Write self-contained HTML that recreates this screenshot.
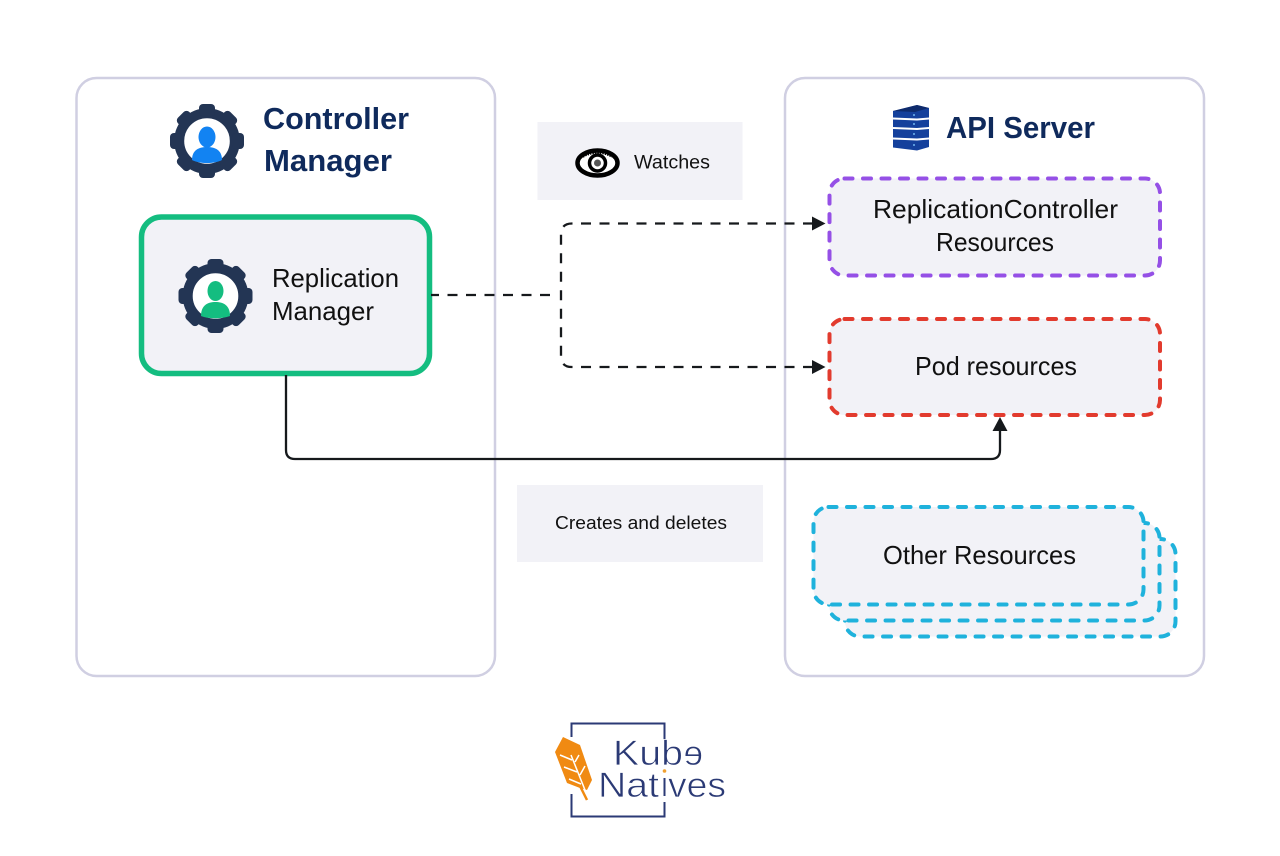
<!DOCTYPE html>
<html>
<head>
<meta charset="utf-8">
<style>
html,body{margin:0;padding:0;background:#fff;width:1280px;height:856px;overflow:hidden}
svg{display:block}
text{font-family:"Liberation Sans",sans-serif}
</style>
</head>
<body>
<svg width="1280" height="856" viewBox="0 0 1280 856" xmlns="http://www.w3.org/2000/svg">
<defs>
<g id="gear">
<circle r="27.800" fill="none" stroke="#233554" stroke-width="10"/>
<g fill="#233554">
<rect x="-8" y="-37" width="16" height="12" rx="4"/>
<rect x="-8" y="-37" width="16" height="12" rx="4" transform="rotate(45)"/>
<rect x="-8" y="-37" width="16" height="12" rx="4" transform="rotate(90)"/>
<rect x="-8" y="-37" width="16" height="12" rx="4" transform="rotate(135)"/>
<rect x="-8" y="-37" width="16" height="12" rx="4" transform="rotate(180)"/>
<rect x="-8" y="-37" width="16" height="12" rx="4" transform="rotate(225)"/>
<rect x="-8" y="-37" width="16" height="12" rx="4" transform="rotate(270)"/>
<rect x="-8" y="-37" width="16" height="12" rx="4" transform="rotate(315)"/>
</g>
</g>
</defs>

<!-- Panels -->
<rect x="76.500" y="78" width="418.500" height="598" rx="20" fill="#fff" stroke="#d0cfe2" stroke-width="2.500"/>
<rect x="785" y="78" width="419" height="598" rx="20" fill="#fff" stroke="#d0cfe2" stroke-width="2.500"/>

<!-- Controller Manager header -->
<use href="#gear" x="207" y="141"/>
<ellipse cx="207" cy="137" rx="8.500" ry="10.500" fill="#1283f2"/>
<path d="M192 160 C192 150 199 147 207 147 C215 147 222 150 222 160 C214 164 200 164 192 160Z" fill="#1283f2"/>
<text x="263" y="129" font-size="31" font-weight="700" fill="#0f2a5c" textLength="146" lengthAdjust="spacingAndGlyphs">Controller</text>
<text x="264" y="171" font-size="31" font-weight="700" fill="#0f2a5c" textLength="128" lengthAdjust="spacingAndGlyphs">Manager</text>

<!-- Replication Manager -->
<rect x="141.500" y="217" width="288" height="156.500" rx="20" fill="#f2f2f7" stroke="#14bd80" stroke-width="5.500"/>
<circle cx="215.500" cy="296" r="23" fill="#fff"/>
<use href="#gear" x="215.500" y="296"/>
<ellipse cx="215.500" cy="291" rx="8" ry="10" fill="#14bd80"/>
<path d="M201 316 C201 305 208 302 215.500 302 C223 302 230 305 230 316 C222 319 208 319 201 316Z" fill="#14bd80"/>
<text x="272" y="287" font-size="26" fill="#111" textLength="127" lengthAdjust="spacingAndGlyphs">Replication</text>
<text x="272" y="320" font-size="26" fill="#111" textLength="102" lengthAdjust="spacingAndGlyphs">Manager</text>

<!-- Watches -->
<rect x="537.500" y="122" width="205" height="78" fill="#f2f2f7"/>
<ellipse cx="597.500" cy="163" rx="20" ry="12.500" fill="#fff" stroke="#000" stroke-width="4.500"/>
<circle cx="597.500" cy="163" r="8" fill="#fff" stroke="#000" stroke-width="3.500"/>
<circle cx="597.500" cy="163" r="3.500" fill="#555"/>
<path d="M583 157 Q597.500 149 612 157" fill="none" stroke="#000" stroke-width="1.500" stroke-dasharray="1.500 1"/>
<text x="634" y="168.500" font-size="19" fill="#111" textLength="76" lengthAdjust="spacingAndGlyphs">Watches</text>

<!-- Creates and deletes -->
<rect x="517" y="485" width="246" height="77" fill="#f2f2f7"/>
<text x="555" y="529" font-size="18.500" fill="#111" textLength="172" lengthAdjust="spacingAndGlyphs">Creates and deletes</text>

<!-- API Server header -->
<g fill="#14409c">
<path d="M893 111 L917 105 L929 108 L929 117.500 L917 118.500 L893 117.500Z"/>
<path d="M893 119.500 L917 120.500 L929 119.500 L929 127 L917 128 L893 127Z"/>
<path d="M893 129 L917 130 L929 129 L929 137.500 L917 138.500 L893 137.500Z"/>
<path d="M893 139.500 L917 140.500 L929 139.500 L929 147 L917 150.500 L893 147.500Z"/>
</g>
<path d="M893 111 L917 105 L929 108 L915 112Z" fill="#0e2a6b"/>
<g fill="#6fb6f0">
<circle cx="914" cy="115" r="1"/><circle cx="914" cy="124" r="1"/><circle cx="914" cy="134" r="1"/><circle cx="914" cy="145" r="1"/>
</g>
<text x="946" y="138" font-size="31" font-weight="700" fill="#0f2a5c" textLength="149" lengthAdjust="spacingAndGlyphs">API Server</text>

<!-- ReplicationController -->
<rect x="829.500" y="178.500" width="330.500" height="97" rx="15" fill="#f2f2f7" stroke="#9550e6" stroke-width="4" stroke-dasharray="8 10.500" stroke-linecap="round"/>
<text x="873" y="218" font-size="26" fill="#111" textLength="245" lengthAdjust="spacingAndGlyphs">ReplicationController</text>
<text x="936" y="251" font-size="26" fill="#111" textLength="118" lengthAdjust="spacingAndGlyphs">Resources</text>

<!-- Pod resources -->
<rect x="829.500" y="319" width="330.500" height="96" rx="15" fill="#f2f2f7" stroke="#e23b2e" stroke-width="4" stroke-dasharray="8 10.500" stroke-linecap="round"/>
<text x="915" y="375" font-size="26" fill="#111" textLength="162" lengthAdjust="spacingAndGlyphs">Pod resources</text>

<!-- Other Resources stack -->
<rect x="845" y="539" width="330.500" height="97.500" rx="15" fill="#f2f2f7" stroke="#1fb2dc" stroke-width="4" stroke-dasharray="8 10.500" stroke-linecap="round"/>
<rect x="829" y="523" width="330.500" height="97.500" rx="15" fill="#f2f2f7" stroke="#1fb2dc" stroke-width="4" stroke-dasharray="8 10.500" stroke-linecap="round"/>
<rect x="813.500" y="507" width="330" height="97.500" rx="15" fill="#f2f2f7" stroke="#1fb2dc" stroke-width="4" stroke-dasharray="8 10.500" stroke-linecap="round"/>
<text x="883" y="564" font-size="26" fill="#111" textLength="193" lengthAdjust="spacingAndGlyphs">Other Resources</text>

<!-- Dashed connectors -->
<g fill="none" stroke="#16191c" stroke-width="2.300" stroke-dasharray="10 8.500">
<path d="M431 295 H552" stroke-dashoffset="2"/>
<path d="M813 223.500 H572 Q561 223.500 561 234.500 V356 Q561 367 572 367 H813"/>
</g>
<path d="M812 216.500 L825.500 223.500 L812 230.500Z" fill="#16191c"/>
<path d="M812 360 L825.500 367 L812 374Z" fill="#16191c"/>

<!-- Solid connector -->
<path d="M286 375 V450 Q286 459 295 459 H991 Q1000 459 1000 450 V428" fill="none" stroke="#16191c" stroke-width="2.300"/>
<path d="M992.500 431 L1000 417 L1007.500 431Z" fill="#16191c"/>

<!-- Logo -->
<rect x="571.500" y="723.500" width="93" height="93" fill="none" stroke="#2b3a75" stroke-width="2"/>
<rect x="570" y="737" width="4" height="57" fill="#fff"/>
<rect x="663" y="765" width="3" height="13" fill="#fff"/>
<rect x="663" y="796" width="3" height="6" fill="#fff"/>
<path d="M555 752 L563 737 L580 745 L592 780 L587 790 L580 788 L567 783Z" fill="#f08a12"/>
<path d="M580 786 L587 800" stroke="#f08a12" stroke-width="2.500" fill="none"/>
<path d="M571 755 L585 790 M560 755 L572 760 M564 767 L577 772 M569 779 L581 784 M575 762 L579 755 M580 775 L585 766" stroke="#fff" stroke-width="1.500" fill="none"/>
<circle cx="664.500" cy="771" r="1.800" fill="#f0a030"/>
<g fill="#2b3a75" stroke="#fff" stroke-width=".7">
<text x="613" y="765" font-size="35" textLength="70" lengthAdjust="spacingAndGlyphs">Kub</text>
<text x="685" y="765" font-size="35" transform="translate(1388 0) scale(-1 1)">e</text>
<text x="598" y="797" font-size="35" textLength="61" lengthAdjust="spacingAndGlyphs">Nat</text>
<text x="668" y="797" font-size="35" textLength="58" lengthAdjust="spacingAndGlyphs">ves</text>
</g>
</svg>
</body>
</html>
